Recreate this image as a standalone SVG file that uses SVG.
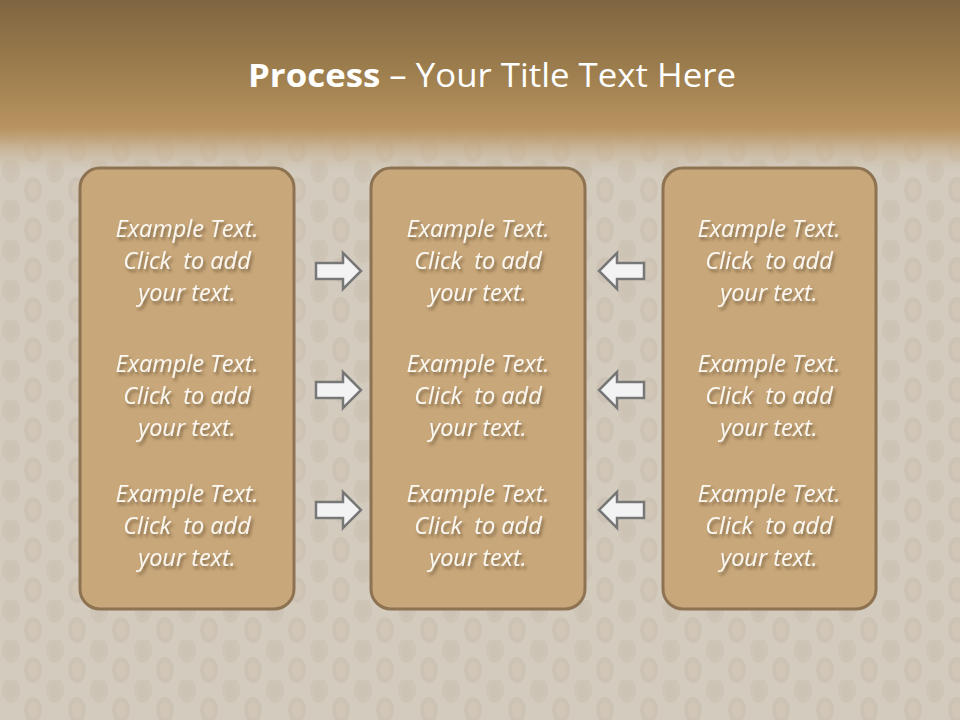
<svg xmlns="http://www.w3.org/2000/svg" width="960" height="720" viewBox="0 0 960 720">
  <defs>
    <linearGradient id="hdr" x1="0" y1="0" x2="0" y2="1">
      <stop offset="0" stop-color="#7f6541"/>
      <stop offset="0.45" stop-color="#a0804f"/>
      <stop offset="0.74" stop-color="#b8935f"/>
      <stop offset="0.8" stop-color="#bc9b6d" stop-opacity="0.85"/>
      <stop offset="1" stop-color="#cdb99c" stop-opacity="0"/>
    </linearGradient>
    <pattern id="scales" width="44" height="40" patternUnits="userSpaceOnUse">
      <rect width="44" height="40" fill="#d2c9bc"/>
      <ellipse cx="11" cy="10" rx="9" ry="13" fill="#b9ad9c" opacity="0.35"/>
      <ellipse cx="33" cy="30" rx="9" ry="13" fill="#b5a893" opacity="0.3"/>
      <ellipse cx="33" cy="-10" rx="9" ry="13" fill="#b5a893" opacity="0.3"/>
      <ellipse cx="11" cy="10" rx="5" ry="8" fill="#c7bbaa" opacity="0.4"/>
      <ellipse cx="33" cy="30" rx="5" ry="8" fill="#d9c9b2" opacity="0.4"/>
    </pattern>
    <filter id="ts" x="-10%" y="-30%" width="130%" height="180%">
      <feGaussianBlur in="SourceAlpha" stdDeviation="1.5"/>
      <feOffset dx="2" dy="3" result="b"/>
      <feFlood flood-color="#4a3a22" flood-opacity="0.55"/>
      <feComposite in2="b" operator="in"/>
      <feMerge><feMergeNode/><feMergeNode in="SourceGraphic"/></feMerge>
    </filter>
    <style>
      .box { fill: #c8a77a; stroke: #8d7352; stroke-width: 3; }
      .txt { font-family: "Open Sans", "Liberation Sans", sans-serif; font-style: italic; font-size: 23.5px; fill: #fbf8f2; text-anchor: middle; filter: url(#ts); white-space: pre; }
      .arr { fill: #f3f3f3; stroke: #777777; stroke-width: 2.5; stroke-linejoin: miter; }
      .title { font-family: "Open Sans", "Liberation Sans", sans-serif; font-size: 32px; fill: #ffffff; }
    </style>
  </defs>

  <rect width="960" height="720" fill="url(#scales)"/>
  <rect width="960" height="720" fill="#d8d0c4" opacity="0.3"/>
  <rect width="960" height="172" fill="url(#hdr)"/>

  <text class="title" x="492" y="87" text-anchor="middle" textLength="488" lengthAdjust="spacingAndGlyphs"><tspan font-weight="bold">Process</tspan> – Your Title Text Here</text>

  <g id="box-left">
    <rect class="box" x="80" y="168" width="214" height="441" rx="20"/>
    <text class="txt"><tspan x="187" y="237">Example Text.</tspan><tspan x="187" y="269">Click  to add</tspan><tspan x="187" y="301">your text.</tspan></text>
    <text class="txt"><tspan x="187" y="372">Example Text.</tspan><tspan x="187" y="404">Click  to add</tspan><tspan x="187" y="436">your text.</tspan></text>
    <text class="txt"><tspan x="187" y="502">Example Text.</tspan><tspan x="187" y="534">Click  to add</tspan><tspan x="187" y="566">your text.</tspan></text>
  </g>

  <g id="box-middle">
    <rect class="box" x="371" y="168" width="214" height="441" rx="20"/>
    <text class="txt"><tspan x="478" y="237">Example Text.</tspan><tspan x="478" y="269">Click  to add</tspan><tspan x="478" y="301">your text.</tspan></text>
    <text class="txt"><tspan x="478" y="372">Example Text.</tspan><tspan x="478" y="404">Click  to add</tspan><tspan x="478" y="436">your text.</tspan></text>
    <text class="txt"><tspan x="478" y="502">Example Text.</tspan><tspan x="478" y="534">Click  to add</tspan><tspan x="478" y="566">your text.</tspan></text>
  </g>

  <g id="box-right">
    <rect class="box" x="663" y="168" width="213" height="441" rx="20"/>
    <text class="txt"><tspan x="769" y="237">Example Text.</tspan><tspan x="769" y="269">Click  to add</tspan><tspan x="769" y="301">your text.</tspan></text>
    <text class="txt"><tspan x="769" y="372">Example Text.</tspan><tspan x="769" y="404">Click  to add</tspan><tspan x="769" y="436">your text.</tspan></text>
    <text class="txt"><tspan x="769" y="502">Example Text.</tspan><tspan x="769" y="534">Click  to add</tspan><tspan x="769" y="566">your text.</tspan></text>
  </g>

  <g id="connectors">
    <polygon class="arr" points="316,263 343,263 343,253 361,271 343,289 343,279 316,279"/>
    <polygon class="arr" points="316,382 343,382 343,372 361,390 343,408 343,398 316,398"/>
    <polygon class="arr" points="316,502 343,502 343,492 361,510 343,528 343,518 316,518"/>
    <polygon class="arr" points="644,263 617,263 617,253 599,271 617,289 617,279 644,279"/>
    <polygon class="arr" points="644,382 617,382 617,372 599,390 617,408 617,398 644,398"/>
    <polygon class="arr" points="644,502 617,502 617,492 599,510 617,528 617,518 644,518"/>
  </g>
</svg>
